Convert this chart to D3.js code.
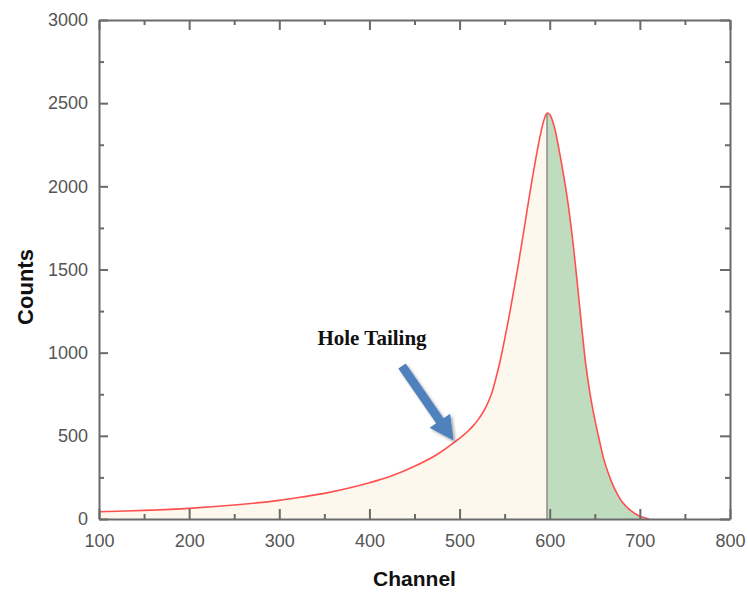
<!DOCTYPE html>
<html>
<head>
<meta charset="utf-8">
<script src="https://cdn.jsdelivr.net/npm/d3@7"></script>
<style>
  html, body { margin: 0; padding: 0; background: #fff; }
  svg { display: block; }
</style>
</head>
<body>
<svg id="chart" width="748" height="595"></svg>
<script>
// Pulse-height spectrum: counts per channel
const channels = [100, 150, 200, 250, 300, 325, 350, 375, 400, 425, 450, 475, 500, 505, 510, 515, 520, 525, 530, 535, 540, 545, 550, 555, 560, 565, 570, 575, 580, 585, 590, 594, 597, 600, 605, 610, 615, 620, 625, 630, 635, 640, 645, 650, 655, 660, 665, 670, 675, 680, 690, 700, 710];
const counts   = [44, 52, 64, 84, 112, 132, 154, 183, 218, 260, 317, 388, 485, 507, 532, 560, 593, 633, 682, 745, 840, 950, 1080, 1220, 1370, 1525, 1690, 1860, 2025, 2180, 2320, 2405, 2440, 2432, 2360, 2230, 2080, 1910, 1700, 1450, 1180, 930, 745, 600, 475, 360, 275, 205, 150, 105, 50, 16, 0];

// Channel dividing the tail region from the full-energy region
const splitChannel = 597;

const xTicks = [100, 200, 300, 400, 500, 600, 700, 800];
const yTicks = [0, 500, 1000, 1500, 2000, 2500, 3000];
const xMinorTicks = [150, 250, 350, 450, 550, 650, 750];
const yMinorTicks = [250, 750, 1250, 1750, 2250, 2750];

const annotation = "Hole Tailing";
const xTitle = "Channel";
const yTitle = "Counts";

const points = channels.map((c, i) => ({ c, v: counts[i] }));

const svg = d3.select("#chart");
const margin = { left: 99, right: 18, top: 20, bottom: 76 };
const W = 748, H = 595;

const x = d3.scaleLinear().domain([100, 800]).range([margin.left, W - margin.right]);
const y = d3.scaleLinear().domain([0, 3000]).range([H - margin.bottom, margin.top]);

const curve = d3.curveCatmullRom.alpha(0.5);

// Arrow drop shadow
const defs = svg.append("defs");
const f = defs.append("filter").attr("id", "shadow").attr("x", "-30%").attr("y", "-30%").attr("width", "160%").attr("height", "160%");
f.append("feGaussianBlur").attr("in", "SourceAlpha").attr("stdDeviation", 1.6).attr("result", "b");
f.append("feOffset").attr("in", "b").attr("dx", 1.5).attr("dy", 2).attr("result", "o");
f.append("feComponentTransfer").attr("in", "o").attr("result", "s")
  .append("feFuncA").attr("type", "linear").attr("slope", 0.35);
const m = f.append("feMerge");
m.append("feMergeNode").attr("in", "s");
m.append("feMergeNode").attr("in", "SourceGraphic");

// Clip regions for the two shaded areas
defs.append("clipPath").attr("id", "clipLeft").append("rect")
  .attr("x", x(100)).attr("y", 0).attr("width", x(splitChannel) - x(100)).attr("height", H);
defs.append("clipPath").attr("id", "clipRight").append("rect")
  .attr("x", x(splitChannel)).attr("y", 0).attr("width", x(800) - x(splitChannel)).attr("height", H);

const area = d3.area().x(d => x(d.c)).y0(y(0)).y1(d => y(d.v)).curve(curve);
const line = d3.line().x(d => x(d.c)).y(d => y(d.v)).curve(curve);

svg.append("path").datum(points).attr("d", area).attr("fill", "#fdf8ed").attr("clip-path", "url(#clipLeft)");
svg.append("path").datum(points).attr("d", area).attr("fill", "#bfdcbf").attr("clip-path", "url(#clipRight)");

// Divider at the split channel, up to the curve
const peakAtSplit = counts[channels.indexOf(splitChannel)];
svg.append("line")
  .attr("x1", x(splitChannel)).attr("x2", x(splitChannel))
  .attr("y1", y(0)).attr("y2", y(peakAtSplit))
  .attr("stroke", "#8c8c8c").attr("stroke-width", 1.5);

svg.append("path").datum(points).attr("d", line)
  .attr("fill", "none").attr("stroke", "#ff5050").attr("stroke-width", 1.6);

// Axes: ticks pointing inward on all four sides
const axisColor = "#6a6a6a";
const labelFont = "'Liberation Sans', Arial, sans-serif";
const fmt = d3.format("d");

function styleAxis(g) {
  g.selectAll("path.domain").attr("stroke", axisColor).attr("stroke-width", 2);
  g.selectAll(".tick line").attr("stroke", axisColor).attr("stroke-width", 2);
  g.selectAll(".tick text").attr("fill", "#555").style("font-family", labelFont).style("font-size", "18px");
}

const gx = svg.append("g").attr("transform", `translate(0,${y(0)})`)
  .call(d3.axisBottom(x).tickValues(xTicks).tickFormat(fmt).tickSizeInner(-10).tickSizeOuter(0).tickPadding(15));
styleAxis(gx);
const gxm = svg.append("g").attr("transform", `translate(0,${y(0)})`)
  .call(d3.axisBottom(x).tickValues(xMinorTicks).tickSizeInner(-5).tickSizeOuter(0).tickFormat(""));
styleAxis(gxm); gxm.select(".domain").remove();

const gxt = svg.append("g").attr("transform", `translate(0,${y(3000)})`)
  .call(d3.axisTop(x).tickValues(xTicks).tickSizeInner(-10).tickSizeOuter(0).tickFormat(""));
styleAxis(gxt);
const gxtm = svg.append("g").attr("transform", `translate(0,${y(3000)})`)
  .call(d3.axisTop(x).tickValues(xMinorTicks).tickSizeInner(-5).tickSizeOuter(0).tickFormat(""));
styleAxis(gxtm); gxtm.select(".domain").remove();

const gy = svg.append("g").attr("transform", `translate(${x(100)},0)`)
  .call(d3.axisLeft(y).tickValues(yTicks).tickFormat(fmt).tickSizeInner(-9).tickSizeOuter(0).tickPadding(11));
styleAxis(gy);
const gym = svg.append("g").attr("transform", `translate(${x(100)},0)`)
  .call(d3.axisLeft(y).tickValues(yMinorTicks).tickSizeInner(-5).tickSizeOuter(0).tickFormat(""));
styleAxis(gym); gym.select(".domain").remove();

const gyr = svg.append("g").attr("transform", `translate(${x(800)},0)`)
  .call(d3.axisRight(y).tickValues(yTicks).tickSizeInner(-10).tickSizeOuter(0).tickFormat(""));
styleAxis(gyr);
const gyrm = svg.append("g").attr("transform", `translate(${x(800)},0)`)
  .call(d3.axisRight(y).tickValues(yMinorTicks).tickSizeInner(-5).tickSizeOuter(0).tickFormat(""));
styleAxis(gyrm); gyrm.select(".domain").remove();

// Axis titles
svg.append("text")
  .attr("x", (x(100) + x(800)) / 2).attr("y", 586)
  .attr("text-anchor", "middle")
  .style("font-family", labelFont).style("font-weight", "bold").style("font-size", "21px")
  .attr("fill", "#111").text(xTitle);

svg.append("text")
  .attr("transform", "translate(33,287) rotate(-90)")
  .attr("text-anchor", "middle")
  .style("font-family", labelFont).style("font-weight", "bold").style("font-size", "22px")
  .attr("fill", "#111").text(yTitle);

// Annotation label and arrow pointing at the tail
svg.append("text")
  .attr("x", 372).attr("y", 345)
  .attr("text-anchor", "middle")
  .style("font-family", "'Liberation Serif', 'Times New Roman', serif").style("font-weight", "bold").style("font-size", "21px")
  .attr("fill", "#111").text(annotation);

const tail = [402, 366], tip = [453.5, 440.5];
const dx = tip[0] - tail[0], dy = tip[1] - tail[1];
const len = Math.hypot(dx, dy);
const ux = dx / len, uy = dy / len, px = -uy, py = ux;
const shaftW = 4.5, headW = 12.5, headL = 24;
const bx = tip[0] - ux * headL, by = tip[1] - uy * headL;
const arrowPts = [
  [tail[0] + px * shaftW, tail[1] + py * shaftW],
  [bx + px * shaftW, by + py * shaftW],
  [bx + px * headW, by + py * headW],
  tip,
  [bx - px * headW, by - py * headW],
  [bx - px * shaftW, by - py * shaftW],
  [tail[0] - px * shaftW, tail[1] - py * shaftW]
];
svg.append("path")
  .attr("d", "M" + arrowPts.map(p => p.join(",")).join("L") + "Z")
  .attr("fill", "#4f81bd").attr("filter", "url(#shadow)");
</script>
</body>
</html>
